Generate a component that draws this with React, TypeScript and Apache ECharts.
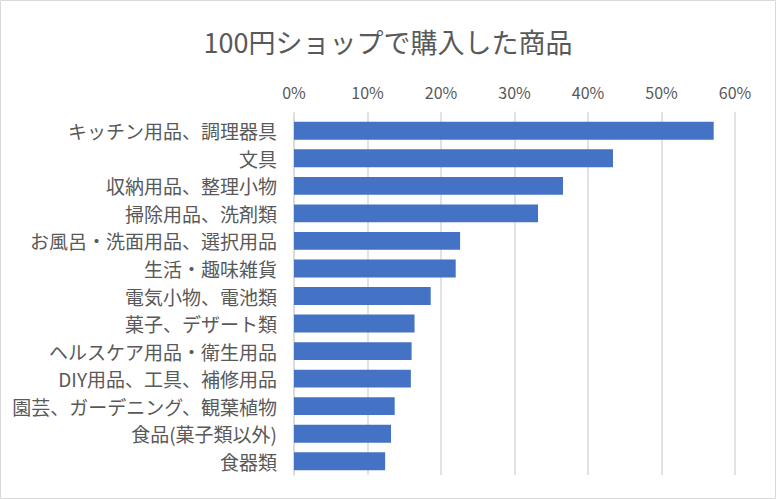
import React, { useEffect, useRef } from "react";
import * as echarts from "echarts";

const titleText = "100円ショップで購入した商品";
const categories = [
  "キッチン用品、調理器具",
  "文具",
  "収納用品、整理小物",
  "掃除用品、洗剤類",
  "お風呂・洗面用品、選択用品",
  "生活・趣味雑貨",
  "電気小物、電池類",
  "菓子、デザート類",
  "ヘルスケア用品・衛生用品",
  "DIY用品、工具、補修用品",
  "園芸、ガーデニング、観葉植物",
  "食品(菓子類以外)",
  "食器類",
];
const values = [57.1, 43.4, 36.6, 33.2, 22.6, 22.0, 18.6, 16.4, 16.0, 15.9, 13.7, 13.2, 12.4];

export default function App() {
  const ref = useRef<HTMLDivElement>(null);
  useEffect(() => {
    if (!ref.current) return;
    const chart = echarts.init(ref.current, null, { renderer: "svg" });
    const font = "'Noto Sans CJK JP', 'Noto Sans', sans-serif";
    chart.setOption({
      animation: false,
      backgroundColor: "#ffffff",
      title: {
        text: titleText,
        left: "center",
        top: 23,
        textStyle: { fontSize: 27, fontWeight: "normal", color: "#595959", fontFamily: font },
      },
      graphic: [
        {
          type: "rect",
          shape: { x: 0.5, y: 0.5, width: 775, height: 498 },
          style: { fill: "none", stroke: "#d9d9d9", lineWidth: 1 },
          silent: true,
        },
      ],
      grid: { left: 294, right: 41, top: 117, bottom: 24, containLabel: false },
      xAxis: {
        type: "value",
        position: "top",
        min: 0,
        max: 60,
        interval: 10,
        axisLine: { show: false },
        axisTick: { show: true, length: 5, lineStyle: { color: "#d9d9d9", width: 1.5 } },
        splitLine: { show: true, lineStyle: { color: "#d9d9d9", width: 1.5 } },
        axisLabel: {
          formatter: "{value}%",
          color: "#595959",
          fontSize: 16,
          fontFamily: font,
          margin: 17,
        },
      },
      yAxis: {
        type: "category",
        data: categories,
        inverse: true,
        axisLine: { show: true, lineStyle: { color: "#d9d9d9", width: 1.5 } },
        axisTick: { show: false },
        axisLabel: { color: "#595959", fontSize: 19, fontFamily: font, margin: 17 },
      },
      series: [
        {
          type: "bar",
          data: values,
          barCategoryGap: "35%",
          itemStyle: { color: "#4472C4" },
        },
      ],
    });
    return () => chart.dispose();
  }, []);
  return (
    <div
      ref={ref}
      style={{ position: "fixed", left: 0, top: 0, width: 776, height: 499 }}
    />
  );
}
